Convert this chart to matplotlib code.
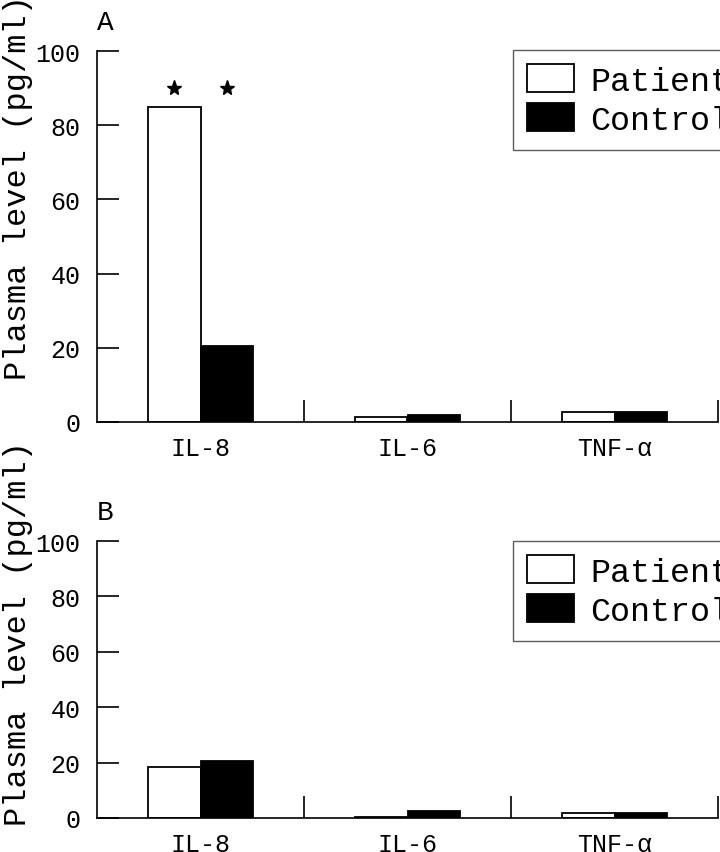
import numpy as np
import matplotlib
matplotlib.use('Agg')
import matplotlib.pyplot as plt

# dados
citocinas = ['IL-8', 'IL-6', 'TNF-\u03b1']
pacienteA = [85.0, 1.3, 2.6]
controleA = [20.5, 1.8, 2.7]
pacienteB = [18.5, 0.3, 1.7]
controleB = [20.6, 2.6, 1.8]
estrelasA = [90, 90]  # marcas de significancia sobre as barras de IL-8

plt.rcParams['font.family'] = ['Liberation Mono', 'DejaVu Sans']
plt.rcParams['text.color'] = 'black'

fig = plt.figure(figsize=(7.2, 8.53), dpi=100)


def painel(pos, paciente, controle, letra, yletra, estrelas=None):
    ax = fig.add_axes(pos)
    x = np.arange(len(citocinas)) + 0.5
    largura = 0.256
    ax.bar(x - largura / 2, paciente, largura, color='white', edgecolor='black',
           linewidth=1.3, label='Patient')
    ax.bar(x + largura / 2, controle, largura, color='black', edgecolor='black',
           linewidth=1.3, label='Control')
    if estrelas is not None:
        ax.plot([x[0] - largura / 2, x[0] + largura / 2], estrelas, '*',
                color='black', markersize=11, linestyle='none')

    ax.set_xlim(0, 3)
    ax.set_ylim(0, 100)
    ax.spines['top'].set_visible(False)
    ax.spines['right'].set_visible(False)
    for s in ['left', 'bottom']:
        ax.spines[s].set_linewidth(1.2)

    ax.set_yticks([0, 20, 40, 60, 80, 100])
    ax.tick_params(axis='y', direction='in', length=16, width=1.2, pad=12,
                   labelsize=18)
    ax.set_xticks(x)
    ax.set_xticklabels(citocinas)
    ax.tick_params(axis='x', which='major', length=0, pad=10, labelsize=18)
    ax.set_xticks([1, 2, 3], minor=True)
    ax.tick_params(axis='x', which='minor', direction='in', length=16, width=1.2)

    ax.text(0, yletra, letra, transform=ax.transAxes, fontsize=20,
            ha='left', va='baseline')
    return ax


axA = painel([97 / 720, 1 - 423 / 853, 621 / 720, 371 / 853],
             pacienteA, controleA, 'A', 1.059, estrelasA)
axB = painel([97 / 720, 1 - 819 / 853, 621 / 720, 277 / 853],
             pacienteB, controleB, 'B', 1.079)

for ax, topo in [(axA, 51), (axB, 542)]:
    ax.legend(loc='upper left', bbox_to_anchor=(513 / 720, 1 - topo / 853),
              bbox_transform=fig.transFigure, borderaxespad=0, fontsize=24,
              frameon=True, fancybox=False, edgecolor='#333333',
              handlelength=1.4, handleheight=0.92, handletextpad=0.5,
              borderpad=0.42, labelspacing=0.2)

fig.text(0.004, 1 - 187 / 853, 'Plasma level (pg/ml)', rotation=90,
         ha='left', va='center', fontsize=23)
fig.text(0.004, 1 - 633 / 853, 'Plasma level (pg/ml)', rotation=90,
         ha='left', va='center', fontsize=23)

fig.savefig('out.png', dpi=100)
